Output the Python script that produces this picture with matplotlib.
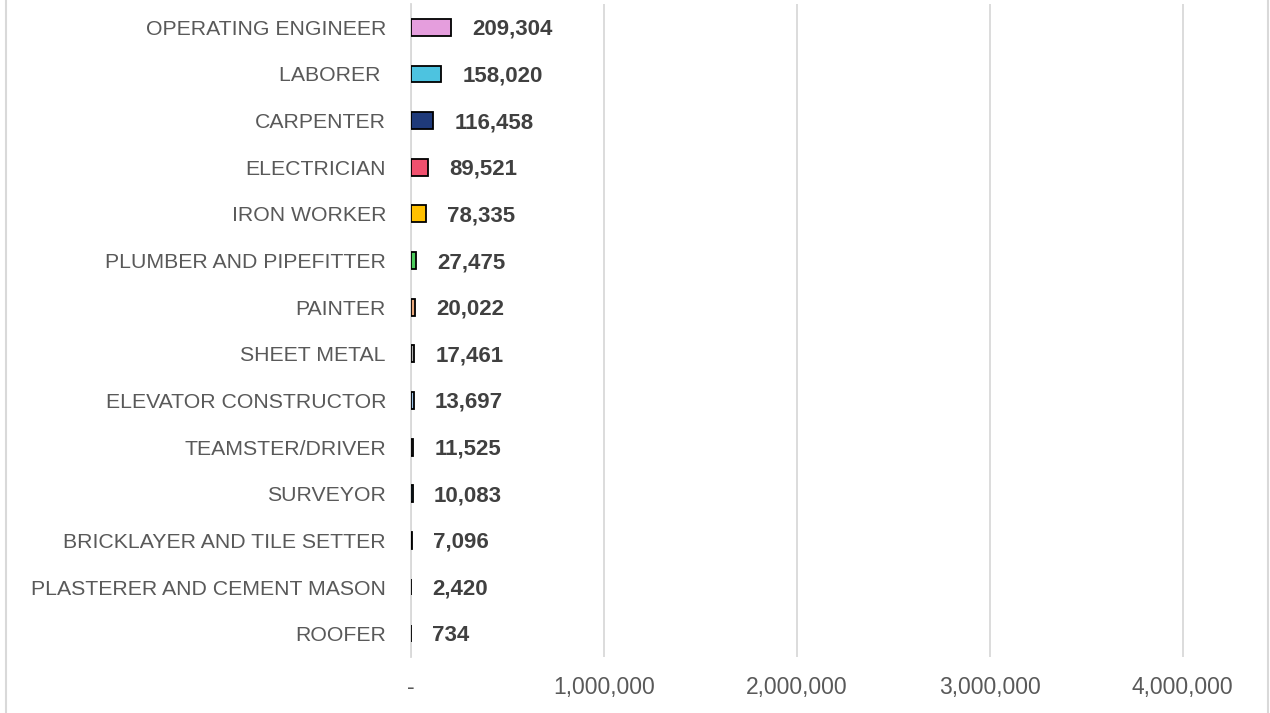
import matplotlib
matplotlib.use("Agg")
import matplotlib.pyplot as plt
from matplotlib.lines import Line2D

categories = ["OPERATING ENGINEER", "LABORER ", "CARPENTER", "ELECTRICIAN", "IRON WORKER",
              "PLUMBER AND PIPEFITTER", "PAINTER", "SHEET METAL", "ELEVATOR CONSTRUCTOR",
              "TEAMSTER/DRIVER", "SURVEYOR", "BRICKLAYER AND TILE SETTER",
              "PLASTERER AND CEMENT MASON", "ROOFER"]
values = [209304, 158020, 116458, 89521, 78335, 27475, 20022, 17461, 13697, 11525, 10083, 7096, 2420, 734]
colors = ["#E59EDD", "#4DC3E0", "#1F3A7A", "#F0506E", "#FFC000", "#4CCB5C", "#E8A87C",
          "#B0B0B0", "#9DC3E6", "#7F7F7F", "#5B9BD5", "#A5A5A5", "#C9C9C9", "#D9D9D9"]
xticks = [0, 1000000, 2000000, 3000000, 4000000]
xticklabels = ["-", "1,000,000", "2,000,000", "3,000,000", "4,000,000"]

plt.rcParams['font.family'] = ['Liberation Sans', 'DejaVu Sans']

fig = plt.figure(figsize=(12.7, 7.13), dpi=100)
ax = fig.add_axes([411/1270, 1-657/713, 1 - 411/1270 - 0.008, (657-4)/713])

y = list(range(len(categories)))
ax.barh(y, values, height=0.36, color=colors, edgecolor="black", linewidth=1.3, zorder=3)
ax.set_ylim(len(categories) - 0.5, -0.5)
ax.set_xlim(0, 4400000)
ax.set_yticks(y)
ax.set_yticklabels(categories, fontsize=15.3, color="#595959")
ax.set_xticks(xticks)
ax.set_xticklabels(xticklabels, fontsize=16.5, color="#595959")
ax.tick_params(axis="y", length=0, pad=18)
ax.tick_params(axis="x", length=0, pad=14)
ax.grid(axis="x", color="#D9D9D9", linewidth=1.3, zorder=0)
for s in ["top", "right", "bottom"]:
    ax.spines[s].set_visible(False)
ax.spines["left"].set_color("#D9D9D9")
ax.spines["left"].set_linewidth(1.3)

for yi, v in zip(y, values):
    ax.annotate(f"{v:,}", xy=(v, yi), xytext=(21, -2), textcoords="offset pixels",
                ha="left", va="center", fontsize=16, fontweight="bold", color="#404040")

fig.add_artist(Line2D([6/1270, 6/1270], [0, 1], color="#D9D9D9", linewidth=1.5))
fig.add_artist(Line2D([1268/1270, 1268/1270], [0, 1], color="#D9D9D9", linewidth=1.5))

fig.savefig("out.png", dpi=100)
